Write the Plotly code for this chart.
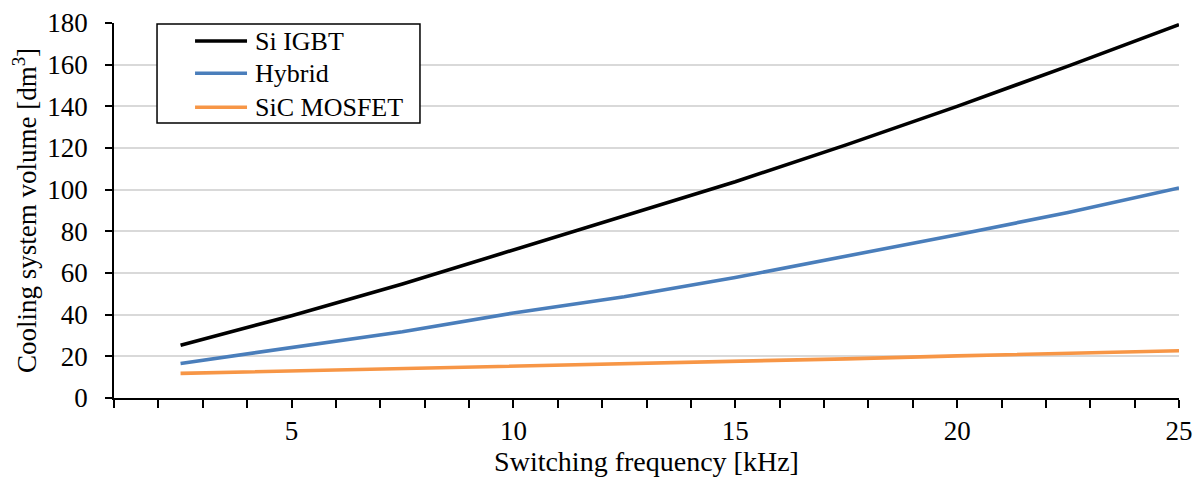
import plotly.graph_objects as go

freq_khz = [2.5, 5, 7.5, 10, 12.5, 15, 17.5, 20, 22.5, 25]
si_igbt = [25.3, 39.5, 54.7, 71.0, 87.1, 103.8, 121.5, 140.0, 159.3, 179.2]
hybrid = [16.6, 24.3, 31.8, 40.8, 48.6, 57.8, 68.0, 78.4, 89.0, 100.8]
sic_mosfet = [11.8, 12.9, 14.1, 15.3, 16.4, 17.6, 18.8, 20.2, 21.4, 22.7]

series_names = ["Si IGBT", "Hybrid", "SiC MOSFET"]
series_colors = ["#000000", "#4a7ebb", "#f79646"]
series_values = [si_igbt, hybrid, sic_mosfet]

x_tick_vals = [5, 10, 15, 20, 25]
y_tick_vals = [0, 20, 40, 60, 80, 100, 120, 140, 160, 180]

FONT = "Liberation Serif, Times New Roman, serif"
LINE_W = 3.6

fig = go.Figure()
for name, color, vals in zip(series_names, series_colors, series_values):
    fig.add_trace(go.Scatter(
        x=freq_khz, y=vals, mode="lines", name=name,
        line=dict(color=color, width=LINE_W), showlegend=False,
    ))

# legend drawn as a framed box with sample lines and text labels
fig.add_shape(type="rect", xref="paper", yref="paper",
              x0=0.0404, x1=0.2873, y0=0.7333, y1=0.9973,
              line=dict(color="black", width=1.5), fillcolor="white", layer="above")
legend_rows_y = [0.952, 0.8659, 0.7752]
for name, color, ry in zip(series_names, series_colors, legend_rows_y):
    fig.add_shape(type="line", xref="paper", yref="paper",
                  x0=0.0761, x1=0.1249, y0=ry, y1=ry,
                  line=dict(color=color, width=LINE_W), layer="above")
    fig.add_annotation(xref="paper", yref="paper", x=0.1305, y=ry,
                       text=name, showarrow=False, xanchor="left", yanchor="middle",
                       font=dict(family=FONT, size=26, color="black"))

fig.update_layout(
    width=1196, height=471,
    margin=dict(l=106, r=25, t=15, b=81),
    paper_bgcolor="white", plot_bgcolor="white",
    font=dict(family=FONT, size=27, color="black"),
    showlegend=False,
    xaxis=dict(
        range=[1, 25], tickvals=x_tick_vals, ticktext=[str(v) for v in x_tick_vals],
        showgrid=False, zeroline=False, automargin=False,
        showline=True, linecolor="black", linewidth=1.5,
        ticks="outside", ticklen=8, tickwidth=1.5, tickcolor="black",
        minor=dict(dtick=1, tick0=0, ticks="outside", ticklen=8, tickwidth=1.5, tickcolor="black", showgrid=False),
        title=dict(text="Switching frequency [kHz]", font=dict(family=FONT, size=28), standoff=4),
        tickfont=dict(family=FONT, size=27),
    ),
    yaxis=dict(
        range=[0, 180], tickvals=y_tick_vals,
        showgrid=True, gridcolor="#d9d9d9", gridwidth=1.5,
        zeroline=False, automargin=False,
        showline=True, linecolor="black", linewidth=1.5,
        ticks="outside", ticklen=7, tickwidth=1.5, tickcolor="black",
        ticklabelstandoff=12,
        title=dict(text="Cooling system volume [dm<sup>3</sup>]", font=dict(family=FONT, size=27), standoff=4),
        tickfont=dict(family=FONT, size=27),
    ),
)

fig.write_html("out.html")
